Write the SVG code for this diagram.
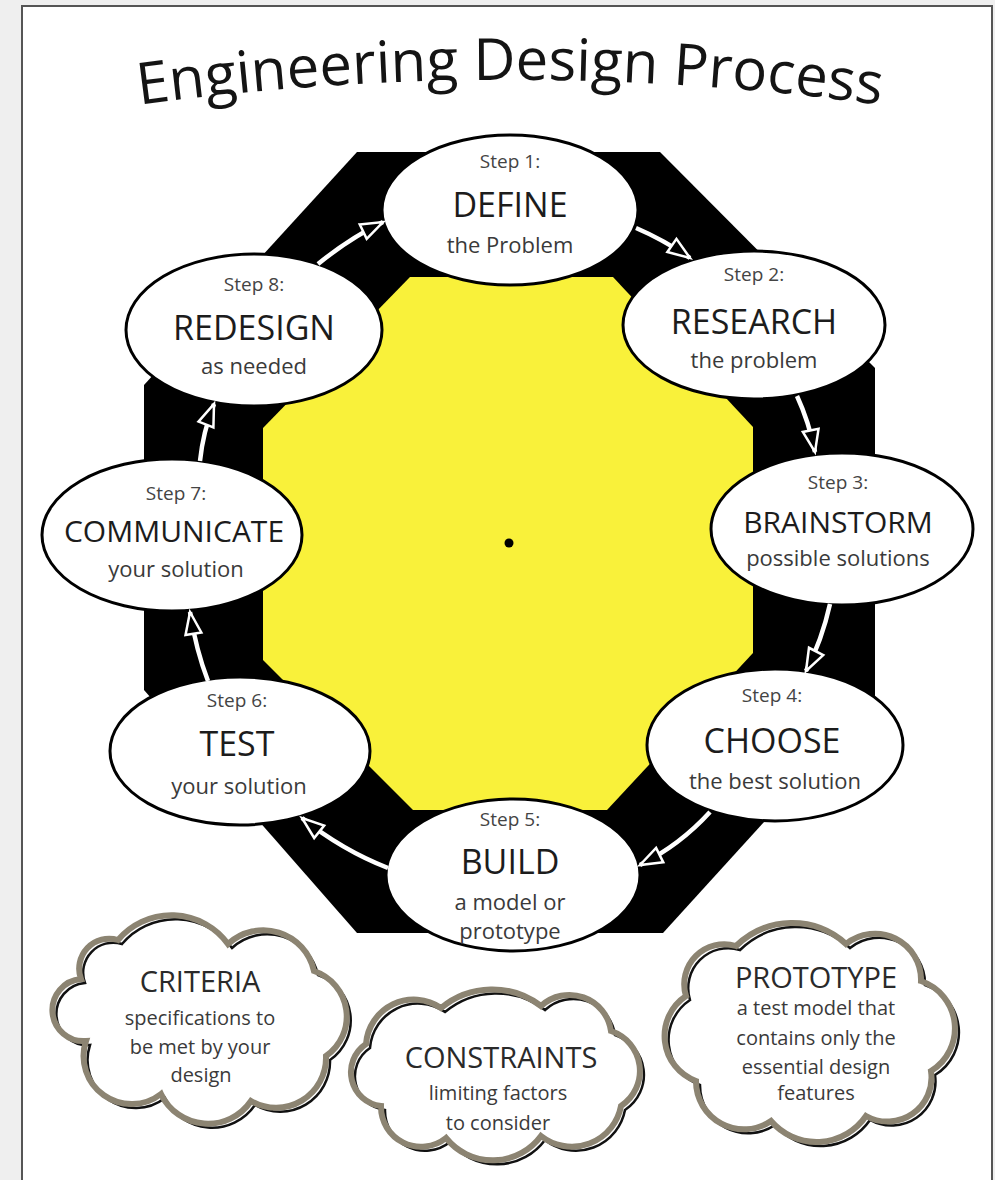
<svg xmlns="http://www.w3.org/2000/svg" width="995" height="1180" viewBox="0 0 995 1180">
<style>
  text { font-family: "Open Sans", "Liberation Sans", sans-serif; text-anchor: middle; }
  .title { font-size: 58px; fill: #141414; }
  .step { font-size: 19px; fill: #444; }
  .big { font-size: 34px; fill: #1c1c1c; }
  .bigs { font-size: 30px; fill: #1c1c1c; }
  .sub { font-size: 22px; fill: #3a3a3a; }
  .node ellipse { fill: #fff; stroke: #000; stroke-width: 3; }
  .conn { fill: none; stroke: #fff; stroke-width: 4.5; marker-end: url(#head); }
  .cloud { fill: #fff; stroke: #111; stroke-width: 2.5; }
  .rim { fill: none; stroke: #8c8472; stroke-width: 6; }
  .ctitle { font-size: 29px; fill: #2a2a2a; }
  .cbody { font-size: 20px; fill: #3a3a3a; }
</style>
<defs>
  <marker id="head" viewBox="0 0 26 20" refX="24" refY="10" markerWidth="26" markerHeight="20" markerUnits="userSpaceOnUse" orient="auto" overflow="visible">
    <path d="M2,2 L24,10 L2,18 Z" fill="#000" stroke="#fff" stroke-width="2.5" stroke-linejoin="miter"/>
  </marker>
  <path id="titleArc" d="M 50 118.5 A 2750 2750 0 0 1 970 118.5"/>
</defs>

<g id="background">
  <rect x="0" y="0" width="995" height="1180" fill="#efefef"/>
  <rect x="22" y="6" width="970" height="1180" fill="#fff" stroke="#555" stroke-width="2"/>
</g>

<g id="title">
  <text class="title"><textPath href="#titleArc" startOffset="50%">Engineering Design Process</textPath></text>
</g>

<g id="octagon">
  <polygon points="357,152 660,152 875,368 875,700 663,933 357,933 144,690 144,385" fill="#000"/>
  <polygon points="410,277 613,277 753,427 753,653 607,810 413,810 263,660 263,428" fill="#f9f13a"/>
  <circle cx="509" cy="543" r="4.5" fill="#000"/>
</g>

<g id="step1" class="node">
  <ellipse cx="510" cy="210" rx="128" ry="75"/>
  <text class="step" x="510" y="168">Step 1:</text>
  <text class="big" x="510" y="217">DEFINE</text>
  <text class="sub" x="510" y="253">the Problem</text>
</g>
<g id="step2" class="node">
  <ellipse cx="754" cy="325" rx="131" ry="74"/>
  <text class="step" x="754" y="281">Step 2:</text>
  <text class="big" x="754" y="334">RESEARCH</text>
  <text class="sub" x="754" y="368">the problem</text>
</g>
<g id="step3" class="node">
  <ellipse cx="842" cy="529" rx="131" ry="76"/>
  <text class="step" x="838" y="489">Step 3:</text>
  <text class="bigs" x="838" y="533">BRAINSTORM</text>
  <text class="sub" x="838" y="566">possible solutions</text>
</g>
<g id="step4" class="node">
  <ellipse cx="775" cy="745" rx="128" ry="76"/>
  <text class="step" x="772" y="702">Step 4:</text>
  <text class="big" x="772" y="753">CHOOSE</text>
  <text class="sub" x="775" y="789">the best solution</text>
</g>
<g id="step5" class="node">
  <ellipse cx="513" cy="875" rx="127" ry="76"/>
  <text class="step" x="510" y="826">Step 5:</text>
  <text class="big" x="510" y="874">BUILD</text>
  <text class="sub" x="510" y="910">a model or</text>
  <text class="sub" x="510" y="939">prototype</text>
</g>
<g id="step6" class="node">
  <ellipse cx="240" cy="751" rx="130" ry="74"/>
  <text class="step" x="237" y="707">Step 6:</text>
  <text class="big" x="237" y="756">TEST</text>
  <text class="sub" x="239" y="794">your solution</text>
</g>
<g id="step7" class="node">
  <ellipse cx="172" cy="535" rx="130" ry="76"/>
  <text class="step" x="176" y="500">Step 7:</text>
  <text class="bigs" x="174" y="542">COMMUNICATE</text>
  <text class="sub" x="176" y="577">your solution</text>
</g>
<g id="step8" class="node">
  <ellipse cx="254" cy="330" rx="128" ry="76"/>
  <text class="step" x="254" y="291">Step 8:</text>
  <text class="big" x="254" y="340">REDESIGN</text>
  <text class="sub" x="254" y="374">as needed</text>
</g>

<g id="connectors">
  <path class="conn" d="M 636 228 Q 664 240 690 258"/>
  <path class="conn" d="M 797 396 Q 809 422 815 452"/>
  <path class="conn" d="M 830 604 Q 822 640 806 671"/>
  <path class="conn" d="M 710 812 Q 680 845 640 865"/>
  <path class="conn" d="M 388 868 Q 342 850 302 818"/>
  <path class="conn" d="M 208 681 Q 196 650 190 612"/>
  <path class="conn" d="M 200 461 Q 203 432 214 404"/>
  <path class="conn" d="M 318 264 Q 350 238 383 222"/>
</g>

<g id="criteria">
  <path class="cloud" d="M85,983 A30,30 0 0 1 122,944 A70,70 0 0 1 232,948 A52,52 0 0 1 318,975 A48,48 0 0 1 330,1060 A50,50 0 0 1 255,1105 A52,52 0 0 1 165,1098 A48,48 0 0 1 90,1045 A31,31 0 0 1 85,983 Z"/>
  <path class="rim" transform="translate(-4,-4)" d="M85,983 A30,30 0 0 1 122,944 A70,70 0 0 1 232,948 A52,52 0 0 1 318,975 A48,48 0 0 1 330,1060 A50,50 0 0 1 255,1105 A52,52 0 0 1 165,1098 A48,48 0 0 1 90,1045 A31,31 0 0 1 85,983 Z"/>
  <text class="ctitle" x="200" y="992">CRITERIA</text>
  <text class="cbody" x="200" y="1025">specifications to</text>
  <text class="cbody" x="200" y="1054">be met by your</text>
  <text class="cbody" x="201" y="1082">design</text>
</g>

<g id="constraints">
  <path class="cloud" d="M370,1048 A48,48 0 0 1 445,1012 A80,80 0 0 1 545,1010 A42,42 0 0 1 615,1035 A42,42 0 0 1 625,1110 A50,50 0 0 1 545,1140 A60,60 0 0 1 450,1142 A40,40 0 0 1 385,1110 A34,34 0 0 1 370,1048 Z"/>
  <path class="rim" transform="translate(-4,-4)" d="M370,1048 A48,48 0 0 1 445,1012 A80,80 0 0 1 545,1010 A42,42 0 0 1 615,1035 A42,42 0 0 1 625,1110 A50,50 0 0 1 545,1140 A60,60 0 0 1 450,1142 A40,40 0 0 1 385,1110 A34,34 0 0 1 370,1048 Z"/>
  <text class="ctitle" x="501" y="1068">CONSTRAINTS</text>
  <text class="cbody" x="498" y="1100">limiting factors</text>
  <text class="cbody" x="498" y="1130">to consider</text>
</g>

<g id="prototype">
  <path class="cloud" d="M690,1000 A40,40 0 0 1 740,950 A80,80 0 0 1 850,948 A46,46 0 0 1 925,985 A50,50 0 0 1 935,1075 A44,44 0 0 1 870,1120 A60,60 0 0 1 775,1125 A48,48 0 0 1 700,1085 A48,48 0 0 1 690,1000 Z"/>
  <path class="rim" transform="translate(-4,-4)" d="M690,1000 A40,40 0 0 1 740,950 A80,80 0 0 1 850,948 A46,46 0 0 1 925,985 A50,50 0 0 1 935,1075 A44,44 0 0 1 870,1120 A60,60 0 0 1 775,1125 A48,48 0 0 1 700,1085 A48,48 0 0 1 690,1000 Z"/>
  <text class="ctitle" x="816" y="988">PROTOTYPE</text>
  <text class="cbody" x="816" y="1015">a test model that</text>
  <text class="cbody" x="816" y="1045">contains only the</text>
  <text class="cbody" x="816" y="1074">essential design</text>
  <text class="cbody" x="816" y="1100">features</text>
</g>
</svg>
